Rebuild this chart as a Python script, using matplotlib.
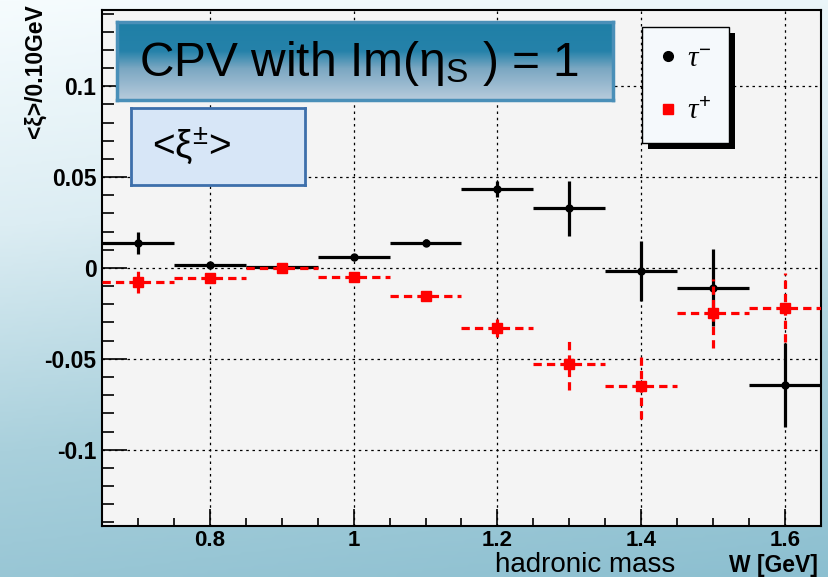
import numpy as np
import matplotlib
matplotlib.use("Agg")
import matplotlib.pyplot as plt
import matplotlib.colors as mcolors
from matplotlib.lines import Line2D
from matplotlib.patches import Rectangle
from matplotlib.ticker import MultipleLocator, FixedLocator

plt.rcParams["font.family"] = ["Liberation Sans", "DejaVu Sans"]
plt.rcParams["mathtext.fontset"] = "custom"
plt.rcParams["mathtext.rm"] = "Liberation Sans"
plt.rcParams["mathtext.it"] = "Liberation Serif:italic"

# hadronic mass bins (GeV), width 0.1
w_centers = [0.7, 0.8, 0.9, 1.0, 1.1, 1.2, 1.3, 1.4, 1.5, 1.6]
bin_halfwidth = 0.05

# tau- (black)
xi_minus = [0.0137, 0.0016, 0.0005, 0.0060, 0.0140, 0.0434, 0.0328, -0.0015, -0.0108, -0.0643]
xi_minus_err = [0.0060, 0.0008, 0.0006, 0.0010, 0.0020, 0.0045, 0.0150, 0.0165, 0.0210, 0.0230]

# tau+ (red)
xi_plus = [-0.0075, -0.0053, 0.0000, -0.0050, -0.0154, -0.0331, -0.0527, -0.0647, -0.0249, -0.0218]
xi_plus_err = [0.0060, 0.0015, 0.0015, 0.0015, 0.0020, 0.0050, 0.0145, 0.0185, 0.0190, 0.0190]

fig = plt.figure(figsize=(8.29, 5.77), dpi=100)

# slide background gradient
bg = fig.add_axes([0, 0, 1, 1], zorder=-10)
gy, gx = np.mgrid[0:1:200j, 0:1:200j]
grad = np.clip(gy * 0.85 + gx * 0.15, 0, 1)
bg_cmap = mcolors.LinearSegmentedColormap.from_list("bg", ["#f6fcfe", "#dcedf3", "#a9d0dc", "#8cbfd0"])
bg.imshow(grad, cmap=bg_cmap, aspect="auto", extent=[0, 1, 0, 1], origin="upper")
bg.axis("off")

ax = fig.add_axes([0.123, 0.0884, 0.8673, 0.8943])
ax.set_facecolor("#f4f4f4")

xerr = [bin_halfwidth] * len(w_centers)

eb_m = ax.errorbar(w_centers, xi_minus, xerr=xerr, yerr=xi_minus_err, fmt="o", color="black",
                   ms=5, elinewidth=2.3, capsize=0, zorder=3)

eb_p = ax.errorbar(w_centers, xi_plus, xerr=xerr, yerr=xi_plus_err, fmt="s", color="red",
                   ms=7, elinewidth=2.3, capsize=0, zorder=4)
for c in eb_p[2]:
    c.set_linestyle((0, (2.6, 1.6)))

ax.set_xlim(0.65, 1.65)
ax.set_ylim(-0.142, 0.142)
ax.xaxis.set_major_locator(FixedLocator([0.8, 1.0, 1.2, 1.4, 1.6]))
ax.xaxis.set_minor_locator(MultipleLocator(0.05))
ax.yaxis.set_major_locator(FixedLocator([-0.1, -0.05, 0, 0.05, 0.1]))
ax.yaxis.set_minor_locator(MultipleLocator(0.01))
ax.set_xticklabels(["0.8", "1", "1.2", "1.4", "1.6"])
ax.set_yticklabels(["-0.1", "-0.05", "0", "0.05", "0.1"])
ax.tick_params(axis="both", which="both", direction="in", color="black")
ax.tick_params(axis="y", which="major", length=18, width=1.2, pad=4, labelsize=16.5)
ax.tick_params(axis="y", which="minor", length=8.5, width=1.2)
ax.tick_params(axis="x", which="major", length=12.5, width=1.2, pad=3, labelsize=16)
ax.tick_params(axis="x", which="minor", length=6, width=1.2)
for lab in ax.get_xticklabels() + ax.get_yticklabels():
    lab.set_fontweight("bold")
ax.grid(True, which="major", color="black", linestyle=(0, (2, 3)), linewidth=0.9)
for s in ax.spines.values():
    s.set_linewidth(1.5)

# legend box with a hard black shadow
handles = [Line2D([], [], marker="o", color="black", linestyle="none", ms=7),
           Line2D([], [], marker="s", color="red", linestyle="none", ms=7)]
leg = ax.legend(handles, [r"$\it{\tau}^{-}$", r"$\it{\tau}^{+}$"], loc="upper left",
                bbox_to_anchor=(0.751, 0.967), borderaxespad=0, fontsize=21,
                handlelength=0.6, handletextpad=0.35, labelspacing=0.85, borderpad=0.6,
                fancybox=False, framealpha=1, facecolor="#f5f9fc", edgecolor="black")
leg.get_frame().set_linewidth(1.0)
leg.set_zorder(6)
fig.canvas.draw()
lb = leg.get_window_extent()
ax.add_patch(Rectangle((lb.x0 + 6, lb.y0 - 6), lb.width, lb.height, transform=None,
                       facecolor="black", edgecolor="none", zorder=5, clip_on=False))

# title box with gradient
tbox = fig.add_axes([0.1411, 0.8267, 0.5983, 0.1352], zorder=5)
tgrad = np.linspace(0, 1, 100)[:, None]
t_cmap = mcolors.LinearSegmentedColormap.from_list(
    "t", [(0, "#1f7fa6"), (0.38, "#2582aa"), (0.6, "#7aa7c2"), (1, "#b7cbdc")])
tbox.imshow(tgrad, cmap=t_cmap, aspect="auto", extent=[0, 1, 0, 1], origin="upper")
tbox.set_xticks([])
tbox.set_yticks([])
for s in tbox.spines.values():
    s.set_color("#4a8fb8")
    s.set_linewidth(2.5)
tbox.text(0.045, 0.47, r"CPV with Im(η$_{\mathregular{S}}$ ) = 1", fontsize=34.5,
          va="center", ha="left", color="black")

# <xi> box
xbox = fig.add_axes([0.158, 0.679, 0.210, 0.134], zorder=5)
xbox.set_facecolor("#d7e6f7")
xbox.set_xticks([])
xbox.set_yticks([])
for s in xbox.spines.values():
    s.set_color("#3d6fab")
    s.set_linewidth(2)
xbox.text(0.12, 0.5, r"<ξ$^{\mathregular{±}}$>", fontsize=28, va="center", ha="left")

# axis titles
fig.text(0.042, 0.992, "<ξ>/0.10GeV", rotation=90, ha="center", va="top",
         fontsize=16.5, fontweight="bold")
fig.text(0.706, 0.008, "hadronic mass", ha="center", va="baseline", fontsize=20)
fig.text(0.987, 0.008, "W [GeV]", ha="right", va="baseline", fontsize=16.5, fontweight="bold")

fig.savefig("out.png", dpi=100)
